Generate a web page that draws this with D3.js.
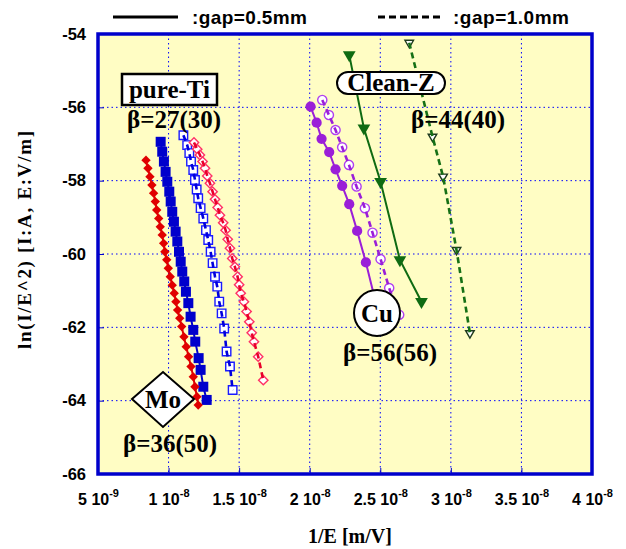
<!DOCTYPE html>
<html>
<head>
<meta charset="utf-8">
<title>FN plot</title>
<script src="https://d3js.org/d3.v7.min.js"></script>
<style>
  body { margin: 0; background: #fff; }
  .sans { font-family: "Liberation Sans", Arial, sans-serif; font-weight: bold; }
  .serif { font-family: "Liberation Serif", "Times New Roman", serif; font-weight: bold; }
</style>
</head>
<body>
<div id="chart"></div>
<script>
// x values are in units of 1e-8 m/V, y is ln(I/E^2)
var xTicks = [0.5, 1, 1.5, 2, 2.5, 3, 3.5, 4];
var xTickBase = ["5 10", "1 10", "1.5 10", "2 10", "2.5 10", "3 10", "3.5 10", "4 10"];
var xTickExp = ["-9", "-8", "-8", "-8", "-8", "-8", "-8", "-8"];
var yTicks = [-66, -64, -62, -60, -58, -56, -54];

// pure-Ti, gap 0.5mm (filled squares)
var tiSolidX = [0.944,0.955,0.967,0.979,0.991,1.005,1.015,1.026,1.038,1.050,1.062,1.074,1.086,1.097,1.111,1.123,1.140,1.156,1.175,1.189,1.213,1.227,1.246,1.270];
var tiSolidY = [-56.94,-57.21,-57.48,-57.76,-58.03,-58.30,-58.57,-58.85,-59.12,-59.39,-59.66,-59.94,-60.21,-60.48,-60.75,-61.03,-61.34,-61.71,-62.07,-62.39,-62.84,-63.16,-63.62,-63.98];
// pure-Ti, gap 1.0mm (open squares)
var tiWideX = [1.105,1.132,1.147,1.159,1.175,1.187,1.199,1.210,1.227,1.246,1.265,1.281,1.298,1.312,1.329,1.345,1.359,1.376,1.394,1.411,1.435,1.454];
var tiWideY = [-56.76,-57.03,-57.25,-57.48,-57.71,-57.98,-58.24,-58.48,-58.75,-59.03,-59.35,-59.62,-59.94,-60.25,-60.62,-60.89,-61.30,-61.62,-62.03,-62.66,-63.07,-63.71];
// Mo, gap 0.5mm (filled diamonds)
var moSolidX = [0.840,0.854,0.868,0.882,0.894,0.906,0.916,0.930,0.941,0.955,0.965,0.974,0.987,0.998,1.012,1.026,1.040,1.052,1.064,1.079,1.093,1.109,1.125,1.142,1.159,1.175,1.187,1.201,1.210];
var moSolidY = [-57.44,-57.66,-57.89,-58.12,-58.34,-58.57,-58.80,-59.03,-59.26,-59.48,-59.71,-59.94,-60.16,-60.39,-60.62,-60.85,-61.07,-61.30,-61.53,-61.75,-61.98,-62.26,-62.53,-62.80,-63.07,-63.35,-63.62,-63.89,-64.12];
// Mo, gap 1.0mm (open diamonds)
var moWideX = [1.180,1.203,1.222,1.241,1.258,1.274,1.293,1.312,1.329,1.348,1.364,1.387,1.404,1.419,1.435,1.451,1.470,1.489,1.500,1.511,1.534,1.553,1.572,1.589,1.605,1.635,1.671];
var moWideY = [-56.96,-57.14,-57.30,-57.48,-57.66,-57.87,-58.07,-58.30,-58.51,-58.73,-58.94,-59.15,-59.35,-59.60,-59.84,-60.12,-60.35,-60.62,-60.84,-61.07,-61.30,-61.57,-61.85,-62.15,-62.39,-62.80,-63.44];
// Cu
var cuSolidX = [2.006,2.049,2.084,2.138,2.183,2.230,2.280,2.336,2.398,2.460];
var cuSolidY = [-55.98,-56.42,-56.86,-57.22,-57.69,-58.14,-58.64,-59.37,-60.23,-61.20];
var cuWideX = [2.089,2.136,2.183,2.230,2.278,2.332,2.391,2.445,2.502,2.563,2.634];
var cuWideY = [-55.80,-56.21,-56.62,-57.09,-57.57,-58.16,-58.75,-59.42,-60.14,-60.93,-61.66];
// Clean-Z
var czSolidX = [2.280,2.384,2.502,2.639,2.792];
var czSolidY = [-54.57,-56.57,-58.03,-60.16,-61.30];
var czWideX = [2.705,2.870,2.945,3.040,3.135];
var czWideY = [-54.24,-56.80,-57.89,-59.89,-62.16];

var W = 626, H = 549;
var margin = {top: 34, right: 34, bottom: 75, left: 98};

var svg = d3.select("#chart").append("svg")
  .attr("width", W)
  .attr("height", H);

var x = d3.scaleLinear().domain([0.5, 4]).range([margin.left, W - margin.right]);
var y = d3.scaleLinear().domain([-66, -54]).range([H - margin.bottom, margin.top]);

// plot background
svg.append("rect")
  .attr("x", x(0.5)).attr("y", y(-54))
  .attr("width", x(4) - x(0.5)).attr("height", y(-66) - y(-54))
  .attr("fill", "#fffdc4");

// dotted grid
svg.append("g").selectAll("line")
  .data(xTicks.slice(1, -1))
  .enter().append("line")
  .attr("x1", function(d) { return x(d); }).attr("x2", function(d) { return x(d); })
  .attr("y1", y(-54)).attr("y2", y(-66))
  .attr("stroke", "#0000ff").attr("stroke-width", 1).attr("stroke-dasharray", "1.5,3");

svg.append("g").selectAll("line")
  .data(yTicks.slice(1, -1))
  .enter().append("line")
  .attr("x1", x(0.5)).attr("x2", x(4))
  .attr("y1", function(d) { return y(d); }).attr("y2", function(d) { return y(d); })
  .attr("stroke", "#0000ff").attr("stroke-width", 1).attr("stroke-dasharray", "1.5,3");

// axes
var xAxis = svg.append("g")
  .attr("transform", "translate(0," + y(-66) + ")")
  .call(d3.axisBottom(x).tickValues(xTicks).tickSize(-6).tickPadding(16).tickFormat(""));
xAxis.select(".domain").remove();
xAxis.selectAll(".tick line").attr("stroke", "#0000cc");
xAxis.selectAll(".tick text").each(function(d, i) {
  var t = d3.select(this)
    .attr("class", "sans")
    .attr("font-size", 16)
    .attr("fill", "#000")
    .attr("dy", null)
    .attr("y", 31);
  t.append("tspan").text(xTickBase[i]);
  t.append("tspan").attr("font-size", 11).attr("dy", -8).text(xTickExp[i]);
});

var yAxis = svg.append("g")
  .attr("transform", "translate(" + x(0.5) + ",0)")
  .call(d3.axisLeft(y).tickValues(yTicks).tickSize(-6).tickPadding(12)
    .tickFormat(function(d) { return String(d); }));
yAxis.select(".domain").remove();
yAxis.selectAll(".tick line").attr("stroke", "#0000cc");
yAxis.selectAll(".tick text")
  .attr("class", "sans")
  .attr("font-size", 16.5)
  .attr("fill", "#000");

// series
function makeSeries(xs, ys) {
  return xs.map(function(v, i) { return {x: v, y: ys[i]}; });
}

var series = [
  {data: makeSeries(tiWideX, tiWideY), color: "#0000dd", stroke: "#1a1aff", open: true, sym: d3.symbolSquare, size: 72, rot: 0},
  {data: makeSeries(moWideX, moWideY), color: "#e8002a", stroke: "#ff3366", open: true, sym: d3.symbolSquare, size: 44, rot: 45},
  {data: makeSeries(tiSolidX, tiSolidY), color: "#0000cc", open: false, sym: d3.symbolSquare, size: 100, rot: 0},
  {data: makeSeries(moSolidX, moSolidY), color: "#e00000", open: false, sym: d3.symbolSquare, size: 44, rot: 45},
  {data: makeSeries(cuWideX, cuWideY), color: "#9a1ed8", stroke: "#b040f0", open: true, sym: d3.symbolCircle, size: 66, rot: 0},
  {data: makeSeries(cuSolidX, cuSolidY), color: "#9a1ed8", open: false, sym: d3.symbolCircle, size: 82, rot: 0},
  {data: makeSeries(czWideX, czWideY), color: "#167016", stroke: "#1e3a1e", open: true, sym: d3.symbolTriangle, size: 32, rot: 180},
  {data: makeSeries(czSolidX, czSolidY), color: "#0f6b12", open: false, sym: d3.symbolTriangle, size: 70, rot: 180}
];

var line = d3.line()
  .x(function(d) { return x(d.x); })
  .y(function(d) { return y(d.y); });

series.forEach(function(s) {
  var g = svg.append("g");
  var drawLine = function() {
    g.append("path")
      .datum(s.data)
      .attr("d", line)
      .attr("fill", "none")
      .attr("stroke", s.color)
      .attr("stroke-width", s.open ? 2.6 : 2)
      .attr("stroke-dasharray", s.open ? "6,4" : null);
  };
  if (!s.open) drawLine();
  g.selectAll(".pt")
    .data(s.data)
    .enter().append("path")
    .attr("class", "pt")
    .attr("d", d3.symbol().type(s.sym).size(s.size))
    .attr("transform", function(d) {
      return "translate(" + x(d.x) + "," + y(d.y) + ") rotate(" + s.rot + ")";
    })
    .attr("fill", s.open ? "#fff" : s.color)
    .attr("stroke", s.open ? s.stroke : "none")
    .attr("stroke-width", 1.4);
  if (s.open) drawLine();
});

// plot border
svg.append("rect")
  .attr("x", x(0.5)).attr("y", y(-54))
  .attr("width", x(4) - x(0.5)).attr("height", y(-66) - y(-54))
  .attr("fill", "none")
  .attr("stroke", "#0000cc")
  .attr("stroke-width", 3.5);

// labels on the plot
function label(txt, cx, base, anchor) {
  return svg.append("text")
    .attr("class", "serif")
    .attr("font-size", 25)
    .attr("x", cx).attr("y", base)
    .attr("text-anchor", anchor || "middle")
    .text(txt);
}

svg.append("rect")
  .attr("x", 122).attr("y", 74).attr("width", 95).attr("height", 31)
  .attr("fill", "#fff").attr("stroke", "#000").attr("stroke-width", 2.5);
label("pure-Ti", 169.5, 98);
label("\u03b2=27(30)", 127, 128, "start");

svg.append("path")
  .attr("d", "M132,399 L163,372 L194,399 L163,427 Z")
  .attr("fill", "#fff").attr("stroke", "#000").attr("stroke-width", 2);
label("Mo", 163, 408);
label("\u03b2=36(50)", 123, 452, "start");

svg.append("circle")
  .attr("cx", 377).attr("cy", 313).attr("r", 23)
  .attr("fill", "#fff").attr("stroke", "#000").attr("stroke-width", 2);
label("Cu", 377, 322);
label("\u03b2=56(56)", 343, 361, "start");

svg.append("rect")
  .attr("x", 337).attr("y", 72).attr("width", 108).attr("height", 22).attr("rx", 11)
  .attr("fill", "#fff").attr("stroke", "#000").attr("stroke-width", 2);
label("Clean-Z", 391, 91);
label("\u03b2=44(40)", 411, 128, "start");

// legend
svg.append("line")
  .attr("x1", 113).attr("x2", 178).attr("y1", 17).attr("y2", 17)
  .attr("stroke", "#000").attr("stroke-width", 3);
svg.append("text").attr("class", "sans").attr("font-size", 19)
  .attr("x", 192).attr("y", 24).attr("textLength", 115)
  .text(":gap=0.5mm");
svg.append("line")
  .attr("x1", 378).attr("x2", 443).attr("y1", 17).attr("y2", 17)
  .attr("stroke", "#000").attr("stroke-width", 3).attr("stroke-dasharray", "7,4");
svg.append("text").attr("class", "sans").attr("font-size", 19)
  .attr("x", 453).attr("y", 24).attr("textLength", 116)
  .text(":gap=1.0mm");

// axis titles
svg.append("text").attr("class", "serif").attr("font-size", 20)
  .attr("x", 350).attr("y", 543).attr("text-anchor", "middle")
  .text("1/E [m/V]");
svg.append("text").attr("class", "serif").attr("font-size", 19)
  .attr("transform", "translate(31,240) rotate(-90)")
  .attr("text-anchor", "middle")
  .attr("textLength", 218)
  .text("ln(I/E^2) [I:A, E:V/m]");
</script>
</body>
</html>
